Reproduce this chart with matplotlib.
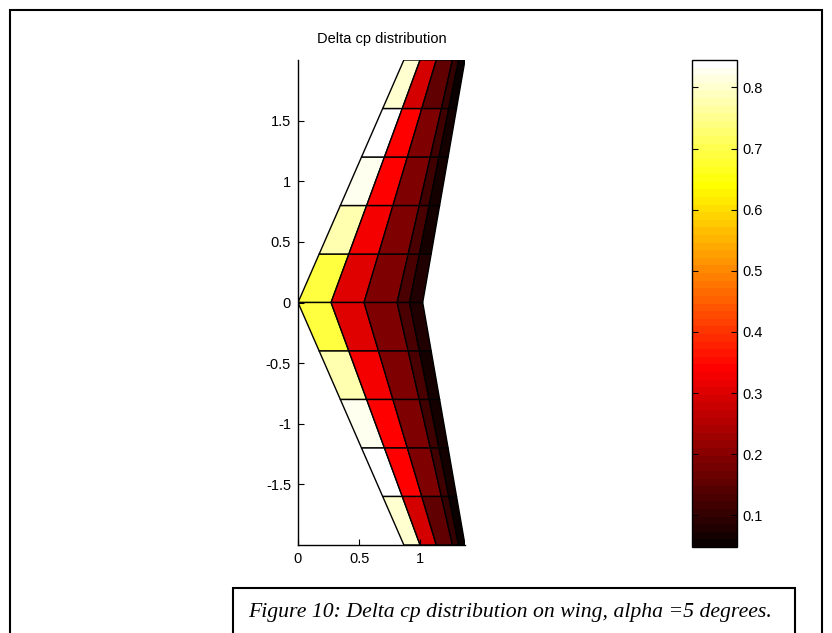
import numpy as np
import matplotlib
matplotlib.use("Agg")
import matplotlib.pyplot as plt
from matplotlib.collections import PolyCollection
from matplotlib.colors import Normalize
from matplotlib.patches import Rectangle

# Wing geometry (semi-span, root -> tip)
span_stations = [0.0, 0.4, 0.8, 1.2, 1.6, 2.0]
le_tip_x = 0.866
root_chord = 1.02
tip_chord = 0.5
chord_fractions = [0.0, 0.265, 0.53, 0.795, 0.895, 1.0]

# Delta cp per panel: one list per chordwise column, strips from root to tip
dcp_col1 = [0.690, 0.777, 0.829, 0.845, 0.797]
dcp_col2 = [0.305, 0.322, 0.342, 0.345, 0.287]
dcp_col3 = [0.194, 0.197, 0.194, 0.192, 0.156]
dcp_col4 = [0.134, 0.134, 0.122, 0.120, 0.099]
dcp_col5 = [0.077, 0.071, 0.068, 0.064, 0.048]

x_ticks = [0, 0.5, 1]
y_ticks = [-1.5, -1, -0.5, 0, 0.5, 1, 1.5]
cbar_ticks = [0.1, 0.2, 0.3, 0.4, 0.5, 0.6, 0.7, 0.8]

columns = [dcp_col1, dcp_col2, dcp_col3, dcp_col4, dcp_col5]


def point(y, f):
    s = abs(y) / span_stations[-1]
    le = le_tip_x * s
    c = root_chord + (tip_chord - root_chord) * s
    return (le + f * c, y)


polys, vals = [], []
for sign in (1, -1):
    for j in range(len(span_stations) - 1):
        y0, y1 = sign * span_stations[j], sign * span_stations[j + 1]
        for i, col in enumerate(columns):
            f0, f1 = chord_fractions[i], chord_fractions[i + 1]
            polys.append([point(y0, f0), point(y0, f1), point(y1, f1), point(y1, f0)])
            vals.append(col[j])

vmin = min(min(c) for c in columns)
vmax = max(max(c) for c in columns)
cmap = plt.get_cmap("hot", 64)
norm = Normalize(vmin=vmin, vmax=vmax)

plt.rcParams["font.family"] = ["Liberation Sans", "DejaVu Sans"]
fig = plt.figure(figsize=(8.32, 6.33), dpi=100)

ax = fig.add_axes([298 / 832, 1 - 545 / 633, 167 / 832, 485 / 633])
pc = PolyCollection(polys, array=np.array(vals), cmap=cmap, norm=norm,
                    edgecolors="black", linewidths=1.0)
ax.add_collection(pc)
ax.set_xlim(0, le_tip_x + tip_chord)
ax.set_ylim(-2, 2)
ax.spines["top"].set_visible(False)
ax.spines["right"].set_visible(False)
for s in ("left", "bottom"):
    ax.spines[s].set_linewidth(1.0)
ax.set_xticks(x_ticks)
ax.set_xticklabels(["0", "0.5", "1"])
ax.set_yticks(y_ticks)
ax.set_yticklabels(["-1.5", "-1", "-0.5", "0", "0.5", "1", "1.5"])
ax.tick_params(direction="in", length=4, labelsize=10.5, pad=5)
ax.set_title("Delta cp distribution", fontsize=10.5, pad=12)

cax = fig.add_axes([692 / 832, 1 - 547 / 633, 45 / 832, 487 / 633])
cb = fig.colorbar(plt.cm.ScalarMappable(norm=norm, cmap=cmap), cax=cax)
cb.set_ticks(cbar_ticks)
cb.set_ticklabels([f"{t:g}" for t in cbar_ticks])
cax.tick_params(direction="in", length=4, labelsize=10.5, left=True, right=True, pad=4)
cb.outline.set_linewidth(1.0)
cax.spines["right"].set_linewidth(2.5)

# Page frame and caption box
fig.add_artist(Rectangle((10 / 832, -0.05), 812 / 832, 1 - 10 / 633 + 0.05,
                         transform=fig.transFigure, fill=False, lw=1.5, ec="black"))
fig.add_artist(Rectangle((233 / 832, -0.05), 562 / 832, 1 - 588 / 633 + 0.05,
                         transform=fig.transFigure, fill=False, lw=1.5, ec="black"))
fig.text(510 / 832, 1 - 613 / 633,
         "Figure 10: Delta cp distribution on wing, alpha =5 degrees.",
         ha="center", va="center", fontsize=15.7, style="italic",
         family=["Liberation Serif", "DejaVu Serif"])

fig.savefig("out.png", dpi=100)
